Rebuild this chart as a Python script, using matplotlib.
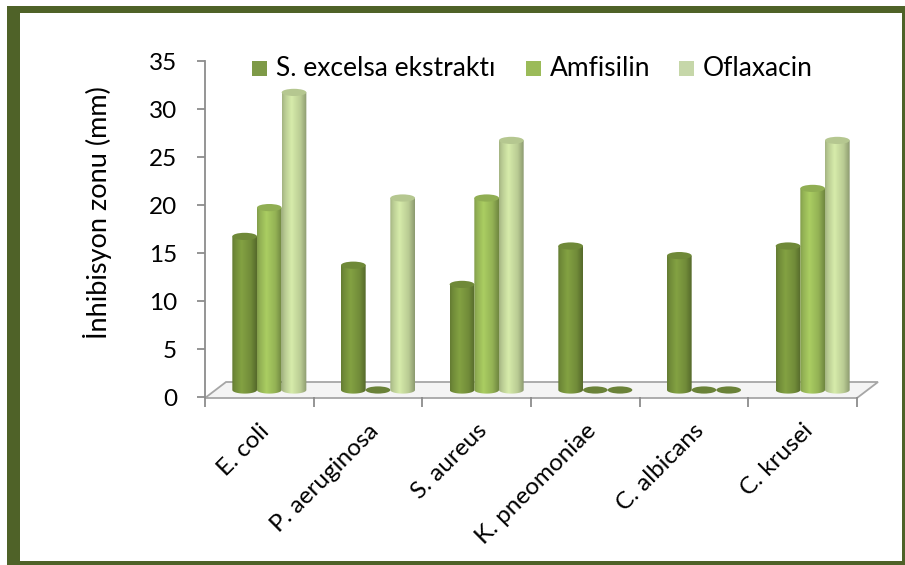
import numpy as np
import matplotlib
matplotlib.use("Agg")
import matplotlib.pyplot as plt
from matplotlib import transforms
from matplotlib.patches import Rectangle, Ellipse, Polygon, PathPatch
from matplotlib.path import Path
from matplotlib.colors import to_rgb

plt.rcParams['font.family'] = ['Lato', 'DejaVu Sans']

# inhibition zones (mm)
organisms = ["E. coli", "P. aeruginosa", "S. aureus", "K. pneomoniae", "C. albicans", "C. krusei"]
series_names = ["S. excelsa ekstraktı", "Amfisilin", "Oflaxacin"]
extract_vals = [16, 13, 11, 15, 14, 15]
amfisilin_vals = [19, 0, 20, 0, 0, 21]
oflaxacin_vals = [31, 20, 26, 0, 0, 26]
y_ticks = [0, 5, 10, 15, 20, 25, 30, 35]

body_colors = ["#77933C", "#9BBB59", "#C3D69B"]
legend_colors = ["#7E9A47", "#9BBB59", "#C6D7A9"]
frame_color = "#4F6228"
axis_grey = "#8C8C8C"

W, H = 905, 565
fig = plt.figure(figsize=(W / 100, H / 100), dpi=100)


def fx(px):
    return px / W


def fy(py):
    return 1 - py / H


# olive frame around the white chart area
fig.add_artist(Rectangle((fx(7), fy(575)), fx(915) - fx(7), fy(6) - fy(575),
                         transform=fig.transFigure, fc=frame_color, ec="none", zorder=0))
fig.add_artist(Rectangle((fx(20), fy(561)), fx(902) - fx(20), fy(13) - fy(561),
                         transform=fig.transFigure, fc="white", ec="none", zorder=0))

ax = fig.add_axes([fx(205), fy(397), fx(857) - fx(205), fy(61) - fy(397)])
ax.set_facecolor("none")
ax.set_xlim(0, 6)
ax.set_ylim(0, 35)

# the floor of the 3d plot
front = ax.transData.transform([(0, 0), (6, 0)])
floor_pts = [front[0] + (0, -1), front[1] + (0, -1), front[1] + (21, 15), front[0] + (21, 15)]
floor = Polygon(floor_pts, closed=True, fc="#F4F4F4", ec="#A6A6A6", lw=1.3,
                transform=transforms.IdentityTransform(), clip_on=False, zorder=1)
ax.add_patch(floor)

# bars sit half way back on the floor
trans = transforms.offset_copy(ax.transData, fig=fig, x=10, y=7, units='dots')

bw = 0.227
eh = 0.75
shade = np.interp(np.linspace(0, 1, 64), [0, 0.12, 0.38, 0.75, 1.0], [0.84, 0.95, 1.1, 0.95, 0.72])

for j, vals in enumerate([extract_vals, amfisilin_vals, oflaxacin_vals]):
    base = np.array(to_rgb(body_colors[j]))
    img = np.clip(shade[:, None] * base[None, :], 0, 1)[None, :, :]
    for i, v in enumerate(vals):
        xc = i + 0.5 + (j - 1) * bw
        x0 = xc - bw / 2
        if v == 0:
            ax.add_patch(Ellipse((xc, 0), bw, eh, transform=trans, fc="#6A8238",
                                 ec="none", zorder=3, clip_on=False))
            continue
        t = np.linspace(np.pi, 2 * np.pi, 30)
        verts = [(x0, v), (x0, 0)] + list(zip(xc + bw / 2 * np.cos(t), eh / 2 * np.sin(t))) + [(x0 + bw, v), (x0, v)]
        codes = [Path.MOVETO] + [Path.LINETO] * (len(verts) - 2) + [Path.CLOSEPOLY]
        body = PathPatch(Path(verts, codes), transform=trans)
        im = ax.imshow(img, extent=(x0, x0 + bw, -eh / 2, v), aspect='auto',
                       transform=trans, interpolation='bilinear', zorder=3)
        im.set_clip_path(body)
        ax.add_patch(Ellipse((xc, v), bw, eh, transform=trans, fc=base * 0.93,
                             ec="none", zorder=4, clip_on=False))

ax.set_xlim(0, 6)
ax.set_ylim(0, 35)

for side in ["top", "right", "bottom"]:
    ax.spines[side].set_visible(False)
ax.spines["left"].set_color(axis_grey)
ax.spines["left"].set_linewidth(1.3)

ax.set_yticks(y_ticks)
ax.tick_params(axis='y', direction='out', length=6, width=1.3, color=axis_grey,
               labelsize=17.5, pad=14)

ax.set_xticks(np.arange(7), minor=True)
ax.tick_params(axis='x', which='minor', direction='out', length=7, width=1.3,
               color=axis_grey)
ax.set_xticks(np.arange(6) + 0.5)
ax.set_xticklabels(organisms, rotation=45, ha='right', va='center',
                   rotation_mode='anchor', fontsize=17.5)
ax.tick_params(axis='x', which='major', length=0, pad=22)
shift = transforms.ScaledTranslation(7 / 100, 0, fig.dpi_scale_trans)
for lab in ax.get_xticklabels():
    lab.set_transform(lab.get_transform() + shift)

fig.text(fx(98), fy(213), "İnhibisyon zonu (mm)", rotation=90,
         ha='center', va='center', fontsize=19.5)

# legend along the top
square_x = [252, 526, 679]
text_x = [276, 550, 703]
for name, col, sx, tx in zip(series_names, legend_colors, square_x, text_x):
    fig.add_artist(Rectangle((fx(sx), fy(76)), 15 / W, 15 / H, transform=fig.transFigure,
                             fc=col, ec="none"))
    fig.text(fx(tx), fy(69), name, ha='left', va='center', fontsize=19)

fig.savefig("out.png", dpi=100)
plt.close(fig)
